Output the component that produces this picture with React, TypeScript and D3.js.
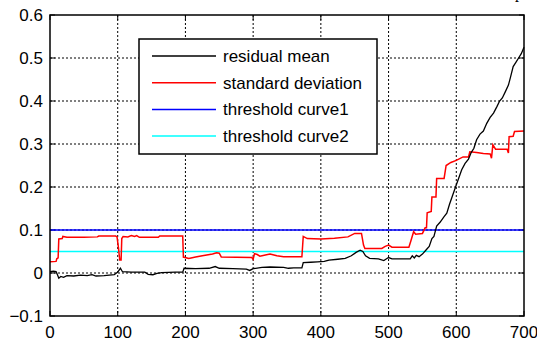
import React, { useEffect, useRef } from 'react';
import * as d3 from 'd3';

// residual mean (black)
const meanPts: [number, number][] = [
  [0, 0.003], [5, 0.004], [9, 0.003], [11, -0.004], [13, -0.012], [16, -0.008], [20, -0.01],
  [25, -0.006], [35, -0.007], [45, -0.005], [55, -0.006], [62, -0.004], [68, -0.007], [80, -0.006],
  [95, -0.004], [100, 0.002], [104, 0.011], [107, 0.003], [120, 0.002], [140, 0.002], [145, -0.003],
  [152, -0.004], [158, -0.001], [165, 0.001], [185, 0.002], [196, 0.002], [198, 0.011], [215, 0.01],
  [235, 0.011], [244, 0.015], [250, 0.011], [270, 0.01], [290, 0.009], [295, 0.006], [300, 0.01],
  [313, 0.013], [325, 0.014], [345, 0.013], [352, 0.011], [360, 0.012], [372, 0.012], [374, 0.024],
  [385, 0.025], [395, 0.026], [405, 0.027], [412, 0.03], [425, 0.032], [436, 0.034], [445, 0.04],
  [452, 0.048], [458, 0.053], [462, 0.05], [466, 0.04], [472, 0.034], [485, 0.033], [493, 0.029],
  [497, 0.033], [500, 0.036], [505, 0.033], [520, 0.033], [532, 0.033], [535, 0.04], [538, 0.035],
  [541, 0.041], [545, 0.038], [550, 0.044], [555, 0.053], [560, 0.062], [564, 0.08], [567, 0.085],
  [571, 0.109], [576, 0.118], [582, 0.131], [586, 0.139], [590, 0.16], [594, 0.178], [598, 0.196],
  [603, 0.218], [608, 0.24], [613, 0.255], [618, 0.265], [622, 0.28], [626, 0.29], [630, 0.31],
  [635, 0.323], [640, 0.33], [645, 0.348], [650, 0.362], [655, 0.372], [660, 0.387], [664, 0.4],
  [668, 0.407], [672, 0.42], [677, 0.437], [680, 0.455], [684, 0.48], [688, 0.49], [692, 0.5],
  [696, 0.51], [700, 0.525],
];

// standard deviation (red)
const stdPts: [number, number][] = [
  [0, 0.026], [9, 0.027], [10, 0.033], [12, 0.035], [13, 0.079], [18, 0.08], [19, 0.085], [25, 0.083],
  [50, 0.083], [70, 0.084], [72, 0.086], [97, 0.086], [99, 0.084], [101, 0.06], [103, 0.03], [105, 0.03],
  [106, 0.08], [108, 0.085], [115, 0.084], [120, 0.087], [125, 0.085], [128, 0.087], [132, 0.083],
  [160, 0.083], [162, 0.086], [196, 0.086], [197, 0.037], [205, 0.034], [215, 0.037], [225, 0.04],
  [240, 0.044], [246, 0.047], [250, 0.046], [253, 0.037], [298, 0.036], [300, 0.032], [302, 0.045],
  [306, 0.043], [310, 0.039], [318, 0.042], [325, 0.044], [335, 0.04], [345, 0.038], [372, 0.038],
  [374, 0.085], [380, 0.08], [400, 0.079], [420, 0.081], [440, 0.084], [450, 0.092], [460, 0.092],
  [463, 0.065], [465, 0.057], [490, 0.057], [495, 0.062], [500, 0.065], [505, 0.06], [530, 0.06],
  [533, 0.075], [537, 0.096], [540, 0.09], [550, 0.092], [554, 0.105], [556, 0.105], [557, 0.14],
  [563, 0.143], [564, 0.177], [570, 0.177], [571, 0.22], [582, 0.22], [585, 0.25], [592, 0.257],
  [600, 0.262], [610, 0.27], [618, 0.27], [620, 0.282], [630, 0.28], [640, 0.278], [650, 0.277],
  [652, 0.267], [654, 0.298], [658, 0.288], [675, 0.288], [677, 0.279], [678, 0.317], [684, 0.318],
  [686, 0.329], [700, 0.33],
];

const threshold1 = 0.1;
const threshold2 = 0.05;
const xTicks = [0, 100, 200, 300, 400, 500, 600, 700];
const yTicks = [-0.1, 0, 0.1, 0.2, 0.3, 0.4, 0.5, 0.6];
const legendLabels = ['residual mean', 'standard deviation', 'threshold curve1', 'threshold curve2'];
const legendColors = ['#000000', '#ff0000', '#0000ff', '#00ffff'];

const W = 537;
const H = 342;

export default function App() {
  const ref = useRef<SVGSVGElement>(null);

  useEffect(() => {
    const svg = d3.select(ref.current);
    svg.selectAll('*').remove();

    const margin = { top: 15, right: 13, bottom: 26, left: 50 };
    const iw = W - margin.left - margin.right;
    const ih = H - margin.top - margin.bottom;

    const x = d3.scaleLinear().domain([0, 700]).range([0, iw]);
    const y = d3.scaleLinear().domain([-0.1, 0.6]).range([ih, 0]);

    const font = 'Arial, "Liberation Sans", sans-serif';

    // clipped title glyph at top
    svg.append('text').attr('x', 515).attr('y', -2)
      .style('font-family', '"Liberation Serif", serif').style('font-size', '16px').text('p');

    const g = svg.append('g').attr('transform', `translate(${margin.left},${margin.top})`);

    // grid
    xTicks.slice(1, -1).forEach(t => {
      g.append('line').attr('x1', x(t)).attr('x2', x(t)).attr('y1', 0).attr('y2', ih)
        .attr('stroke', '#000').attr('stroke-width', 1).attr('stroke-dasharray', '2,2');
    });
    yTicks.slice(1, -1).forEach(t => {
      g.append('line').attr('x1', 0).attr('x2', iw).attr('y1', y(t)).attr('y2', y(t))
        .attr('stroke', '#000').attr('stroke-width', 1).attr('stroke-dasharray', '2,2');
    });

    // inward ticks
    const tl = 5;
    xTicks.forEach(t => {
      g.append('line').attr('x1', x(t)).attr('x2', x(t)).attr('y1', ih).attr('y2', ih - tl).attr('stroke', '#000');
      g.append('line').attr('x1', x(t)).attr('x2', x(t)).attr('y1', 0).attr('y2', tl).attr('stroke', '#000');
    });
    yTicks.forEach(t => {
      g.append('line').attr('x1', 0).attr('x2', tl).attr('y1', y(t)).attr('y2', y(t)).attr('stroke', '#000');
      g.append('line').attr('x1', iw).attr('x2', iw - tl).attr('y1', y(t)).attr('y2', y(t)).attr('stroke', '#000');
    });

    // threshold lines
    g.append('line').attr('x1', x(0)).attr('x2', x(700)).attr('y1', y(threshold1)).attr('y2', y(threshold1))
      .attr('stroke', legendColors[2]).attr('stroke-width', 1.5);
    g.append('line').attr('x1', x(0)).attr('x2', x(700)).attr('y1', y(threshold2)).attr('y2', y(threshold2))
      .attr('stroke', legendColors[3]).attr('stroke-width', 1.5);

    const line = d3.line<[number, number]>().x(d => x(d[0])).y(d => y(d[1]));
    g.append('path').datum(stdPts).attr('d', line).attr('fill', 'none')
      .attr('stroke', legendColors[1]).attr('stroke-width', 1.5);
    g.append('path').datum(meanPts).attr('d', line).attr('fill', 'none')
      .attr('stroke', legendColors[0]).attr('stroke-width', 1.3);

    // frame
    g.append('rect').attr('x', 0).attr('y', 0).attr('width', iw).attr('height', ih)
      .attr('fill', 'none').attr('stroke', '#000').attr('stroke-width', 1.5);

    // tick labels
    xTicks.forEach(t => {
      g.append('text').attr('x', x(t)).attr('y', ih + 22).attr('text-anchor', 'middle')
        .style('font-family', font).style('font-size', '17px').text(String(t));
    });
    yTicks.forEach(t => {
      g.append('text').attr('x', -7).attr('y', y(t) + 6).attr('text-anchor', 'end')
        .style('font-family', font).style('font-size', '17px').text(d3.format('.1~f')(t));
    });

    // legend
    const lg = svg.append('g').attr('transform', 'translate(139,39)');
    lg.append('rect').attr('width', 238).attr('height', 115).attr('fill', '#fff')
      .attr('stroke', '#000').attr('stroke-width', 1.5);
    legendLabels.forEach((lab, i) => {
      const cy = 17 + i * 26.7;
      lg.append('line').attr('x1', 13).attr('x2', 77).attr('y1', cy).attr('y2', cy)
        .attr('stroke', legendColors[i]).attr('stroke-width', 1.5);
      lg.append('text').attr('x', 84).attr('y', cy + 6)
        .style('font-family', font).style('font-size', '17px').text(lab);
    });
  }, []);

  return (
    <svg ref={ref} width={W} height={H} style={{ position: 'absolute', left: 0, top: 0, background: '#fff' }} />
  );
}
